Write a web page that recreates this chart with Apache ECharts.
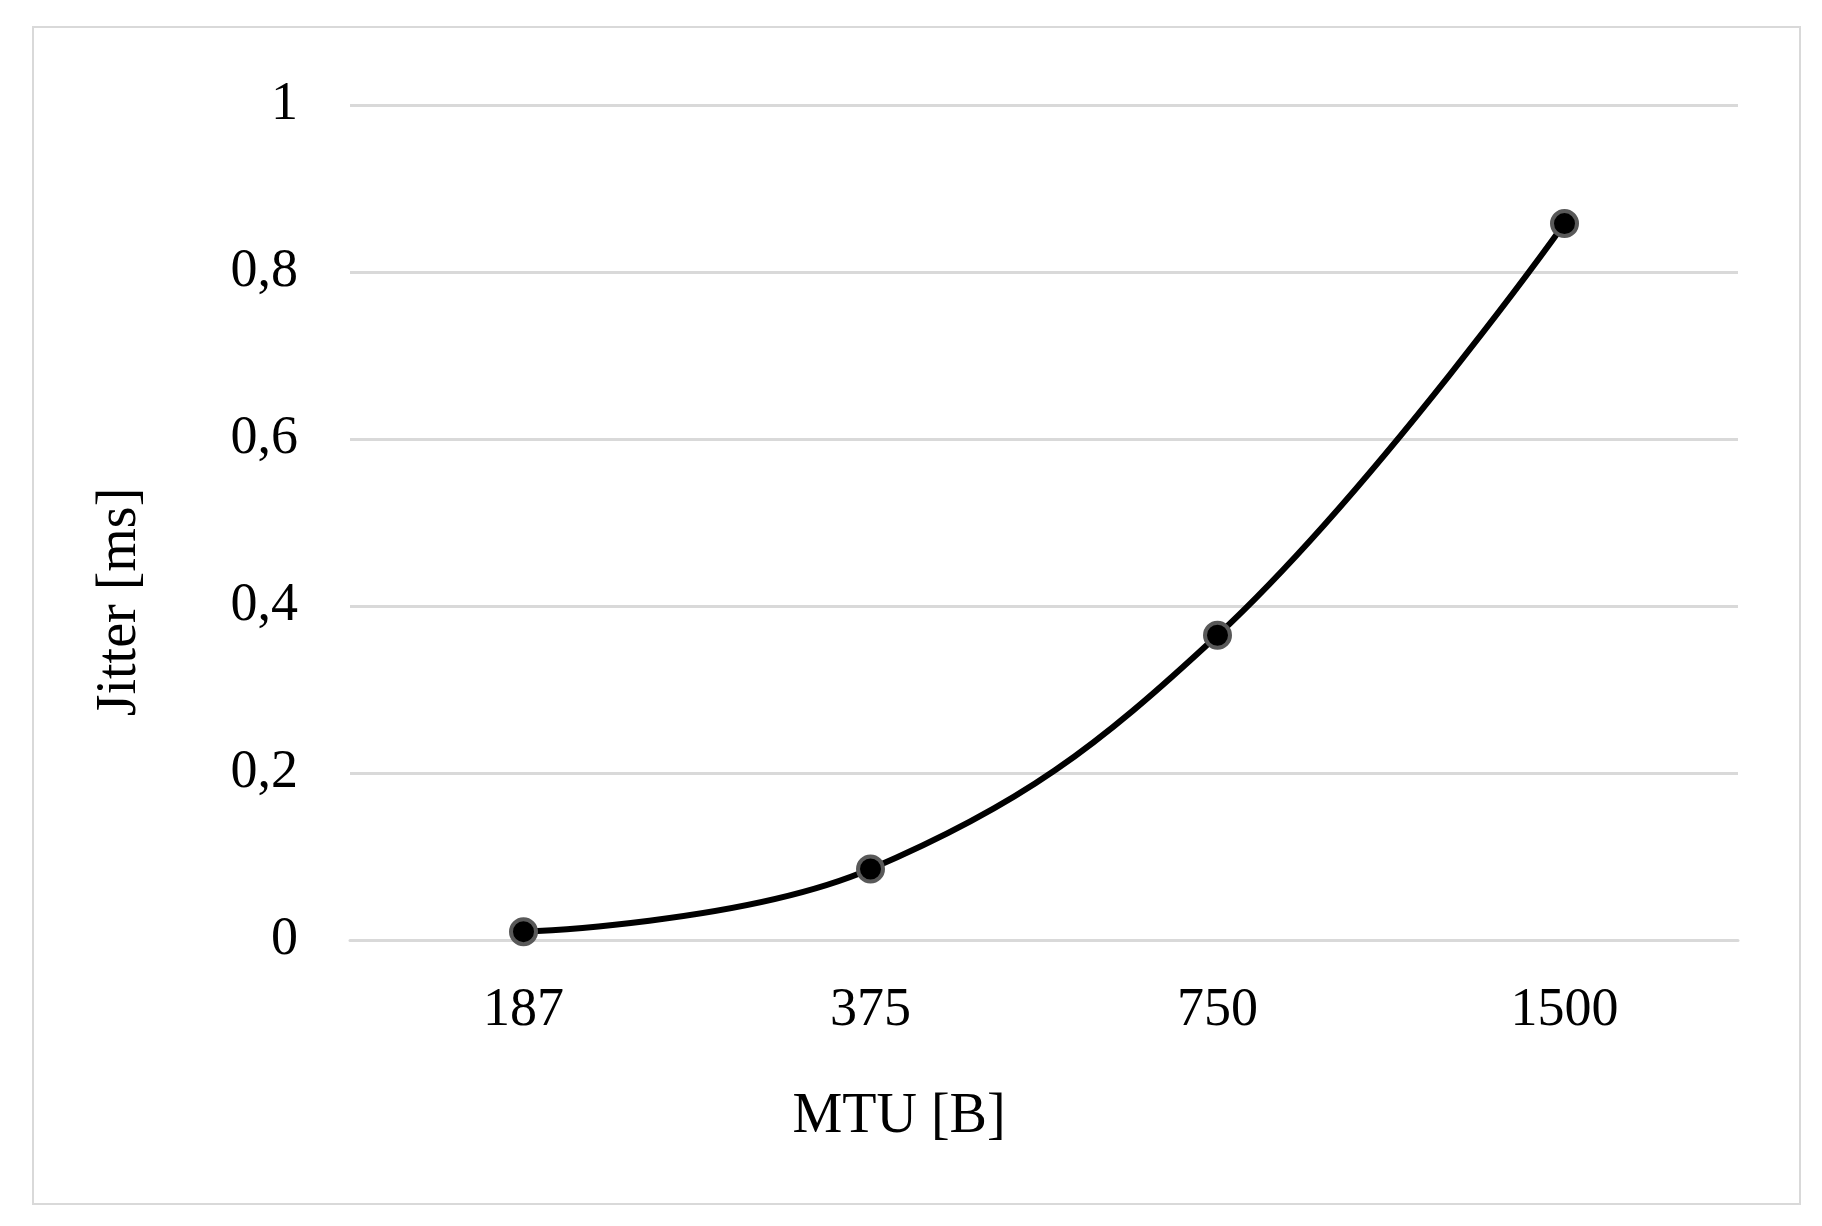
<!DOCTYPE html>
<html>
<head>
<meta charset="utf-8">
<script src="https://cdn.jsdelivr.net/npm/echarts@6/dist/echarts.min.js"></script>
<style>
  html, body { margin: 0; padding: 0; background: #fff; }
  #frame { position: absolute; left: 32px; top: 26px; width: 1765px; height: 1175px; border: 2px solid #d9d9d9; }
  #chart { width: 1822px; height: 1226px; }
</style>
</head>
<body>
<div id="frame"></div>
<div id="chart"></div>
<script>
var categories = ['187', '375', '750', '1500'];
var jitter     = [0.01, 0.085, 0.365, 0.858];
var yTicks     = [0, 0.2, 0.4, 0.6, 0.8, 1];
var xName      = 'MTU [B]';
var yName      = 'Jitter [ms]';

var chart = echarts.init(document.getElementById('chart'));
var font = 'Liberation Serif';

chart.setOption({
  animation: false,
  grid: { left: 350, right: 84, top: 105, bottom: 286 },
  graphic: [
    { type: 'text', x: 899, y: 1117,
      style: { text: xName, font: '56px "Liberation Serif"', fill: '#000', textAlign: 'center', textVerticalAlign: 'middle' } },
    { type: 'text', x: 120, y: 602, rotation: Math.PI / 2,
      style: { text: yName, font: '56px "Liberation Serif"', fill: '#000', textAlign: 'center', textVerticalAlign: 'middle' } }
  ],
  xAxis: {
    type: 'category',
    data: categories,
    boundaryGap: true,
    axisLine: { show: true, lineStyle: { color: '#d9d9d9', width: 3 } },
    axisTick: { show: false },
    axisLabel: { fontFamily: font, fontSize: 54, color: '#000', margin: 44 }
  },
  yAxis: {
    type: 'value',
    min: 0,
    max: 1,
    interval: 0.2,
    axisLine: { show: false },
    axisTick: { show: false },
    splitLine: { lineStyle: { color: '#d9d9d9', width: 3 } },
    axisLabel: {
      fontFamily: font, fontSize: 54, color: '#000', margin: 52,
      formatter: function(v) {
        var t = yTicks.find(function(x) { return Math.abs(x - v) < 1e-9; });
        return String(t === undefined ? v : t).replace('.', ',');
      }
    }
  },
  series: [{
    type: 'line',
    data: jitter,
    smooth: 0.4,
    symbol: 'circle',
    symbolSize: 25,
    lineStyle: { color: '#000', width: 6 },
    itemStyle: { color: '#000', borderColor: '#595959', borderWidth: 4 }
  }]
});
</script>
</body>
</html>
